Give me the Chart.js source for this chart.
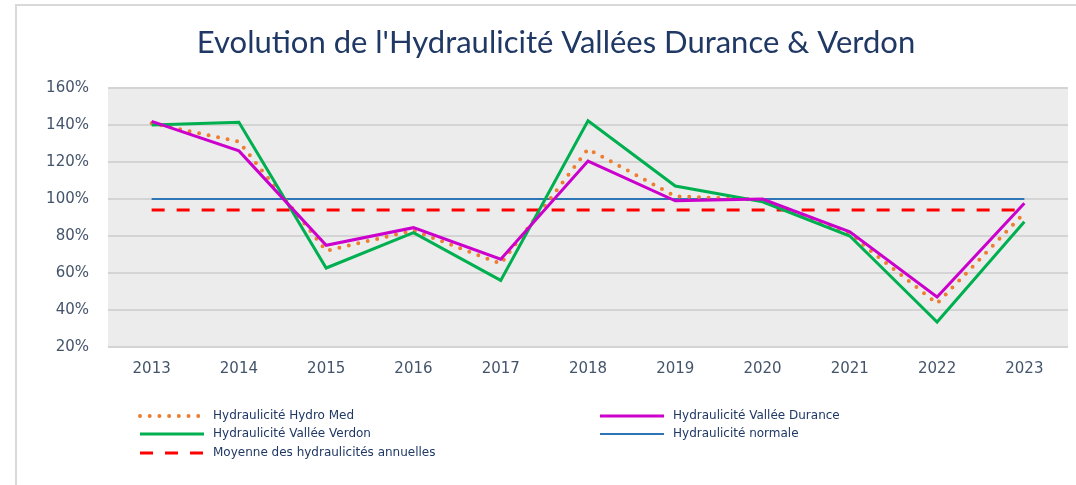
<!DOCTYPE html>
<html>
<head>
<meta charset="utf-8">
<script src="https://cdn.jsdelivr.net/npm/chart.js@4"></script>
<style>
    html, body { margin: 0; padding: 0; background: #fff; }
    #wrap { position: relative; width: 1076px; height: 485px; }
</style>
</head>
<body>
<div id="wrap"><canvas id="chart"></canvas></div>
<script>
const years = ['2013', '2014', '2015', '2016', '2017', '2018', '2019', '2020', '2021', '2022', '2023'];
const hydroMed = [141, 131, 72, 83, 65, 127, 101.5, 99.5, 81, 43.5, 92.5];
const durance = [142, 126, 75, 84.5, 67.5, 120.5, 99, 100, 82.3, 47, 97.7];
const verdon = [140, 141.5, 62.7, 81.8, 56, 142.3, 107, 98.5, 80, 33.5, 87.7];
const normale = [100, 100, 100, 100, 100, 100, 100, 100, 100, 100, 100];
const moyenne = [94, 94, 94, 94, 94, 94, 94, 94, 94, 94, 94];
const yTicks = [20, 40, 60, 80, 100, 120, 140, 160];

const titleText = "Evolution de l'Hydraulicité Vallées Durance & Verdon";
const navy = '#1f3864';
const tickColor = '#44546a';

// frame, plot background and the two-column legend
const decor = {
    id: 'decor',
    beforeDraw(chart) {
        const { ctx, chartArea: a } = chart;
        ctx.save();
        ctx.fillStyle = '#d9d9d9';
        ctx.fillRect(15, 4, chart.width - 15, 2);
        ctx.fillRect(15, 4, 2, chart.height - 4);
        ctx.fillStyle = '#ececec';
        ctx.fillRect(a.left, a.top, a.right - a.left, a.bottom - a.top);
        ctx.restore();
    },
    afterDraw(chart) {
        const { ctx } = chart;
        ctx.save();
        ctx.fillStyle = navy;
        ctx.font = '31px Lato, "Open Sans", sans-serif';
        ctx.textAlign = 'center';
        ctx.textBaseline = 'alphabetic';
        ctx.fillText(titleText, 556, 53);

        const slots = [
            [140, 416], [600, 416],
            [140, 434], [600, 434],
            [140, 453],
        ];
        ctx.font = '12px "DejaVu Sans", sans-serif';
        ctx.textBaseline = 'middle';
        ctx.textAlign = 'left';
        chart.data.datasets.forEach((ds, i) => {
            const [x, y] = slots[i];
            ctx.beginPath();
            ctx.strokeStyle = ds.borderColor;
            ctx.lineWidth = ds.borderWidth;
            ctx.lineCap = ds.borderCapStyle || 'butt';
            ctx.setLineDash(ds.borderDash || []);
            ctx.moveTo(x, y);
            ctx.lineTo(x + 64, y);
            ctx.stroke();
            ctx.setLineDash([]);
            ctx.fillStyle = navy;
            ctx.fillText(ds.label, x + 73, y);
        });
        ctx.restore();
    },
};

new Chart(document.getElementById('chart'), {
    type: 'line',
    data: {
        labels: years,
        datasets: [
            {
                label: 'Hydraulicité Hydro Med',
                data: hydroMed,
                borderColor: '#ed7d31',
                borderWidth: 4,
                borderDash: [0, 9.7],
                borderCapStyle: 'round',
                order: 3,
            },
            {
                label: 'Hydraulicité Vallée Durance',
                data: durance,
                borderColor: '#cc00cc',
                borderWidth: 3,
                order: 1,
            },
            {
                label: 'Hydraulicité Vallée Verdon',
                data: verdon,
                borderColor: '#00b050',
                borderWidth: 3,
                order: 2,
            },
            {
                label: 'Hydraulicité normale',
                data: normale,
                borderColor: '#2e75b6',
                borderWidth: 2,
                order: 5,
            },
            {
                label: 'Moyenne des hydraulicités annuelles',
                data: moyenne,
                borderColor: '#ff0000',
                borderWidth: 3,
                borderDash: [13, 12],
                order: 4,
            },
        ],
    },
    options: {
        responsive: true,
        maintainAspectRatio: false,
        animation: false,
        elements: {
            point: { radius: 0, hoverRadius: 0 },
            line: { tension: 0, fill: false },
        },
        layout: { padding: { top: 88, right: 8, left: 0, bottom: 0 } },
        scales: {
            x: {
                offset: true,
                grid: { display: false, drawTicks: false },
                border: { display: false },
                ticks: {
                    color: tickColor,
                    padding: 13,
                    font: { family: '"DejaVu Sans", sans-serif', size: 15 },
                },
                afterFit(scale) { scale.height = 138; },
            },
            y: {
                min: 20,
                max: 160,
                afterBuildTicks(scale) {
                    scale.ticks = yTicks.map((v) => ({ value: v }));
                },
                grid: { color: '#d4d4d4', lineWidth: 2, drawTicks: false },
                border: { display: false },
                ticks: {
                    color: tickColor,
                    padding: 19,
                    font: { family: '"DejaVu Sans", sans-serif', size: 15 },
                    callback: (v) => v + '%',
                },
                afterFit(scale) { scale.width = 108; },
            },
        },
        plugins: {
            legend: { display: false },
            title: { display: false },
            tooltip: { enabled: false },
        },
    },
    plugins: [decor],
});
</script>
</body>
</html>
